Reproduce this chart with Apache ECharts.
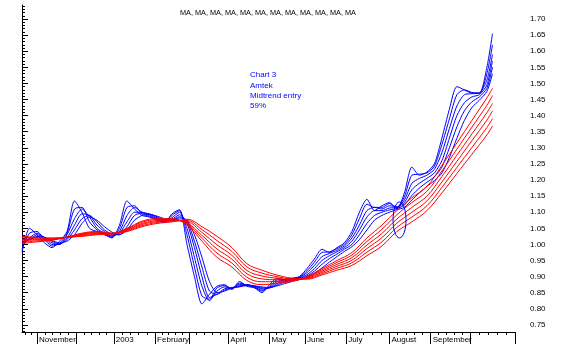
<!DOCTYPE html>
<html>
<head>
<meta charset="utf-8">
<script src="https://cdn.jsdelivr.net/npm/echarts@6/dist/echarts.min.js"></script>
<style>
html,body{margin:0;padding:0;background:#fff;}
#c{width:566px;height:356px;}
</style>
</head>
<body>
<div id="c"></div>
<script>
// ---- data (x = trading-day index from start of chart) ----
const blueDays = [0,4,8,12,16,20,24,28,32,36,40,44,48,52,56,60,64,68,72,76,80,84,88,92,96,100,104,108,112,116,120,124,128,132,136,140,144,148,152,156,160,164,168,172,176,180,184,188,192,196,200,204,208,212,216,220,224,228,232,236,240,244,248,251];
const B1 = [0.975,1.05,1.03,1.005,0.99,1.01,1.04,1.135,1.10,1.05,1.04,1.03,1.02,1.06,1.135,1.11,1.09,1.085,1.075,1.068,1.095,1.108,1.00,0.90,0.815,0.845,0.87,0.875,0.86,0.885,0.87,0.865,0.85,0.875,0.895,0.89,0.895,0.90,0.925,0.955,0.985,0.975,0.99,1.005,1.04,1.10,1.14,1.105,1.12,1.13,1.11,1.16,1.24,1.215,1.225,1.25,1.33,1.42,1.49,1.48,1.47,1.47,1.55,1.655];
const B2 = [0.985,1.035,1.04,1.015,0.995,1.003,1.035,1.11,1.115,1.07,1.045,1.032,1.022,1.05,1.115,1.12,1.095,1.087,1.077,1.069,1.09,1.105,1.03,0.93,0.84,0.83,0.865,0.872,0.862,0.88,0.873,0.866,0.855,0.87,0.89,0.891,0.894,0.899,0.918,0.945,0.975,0.977,0.987,1.0,1.03,1.08,1.125,1.115,1.115,1.127,1.115,1.148,1.215,1.218,1.222,1.243,1.31,1.39,1.465,1.48,1.472,1.47,1.53,1.62];
const B3 = [0.995,1.02,1.035,1.02,1.0,1.0,1.03,1.08,1.11,1.085,1.05,1.035,1.025,1.04,1.09,1.115,1.10,1.09,1.08,1.071,1.083,1.10,1.05,0.96,0.87,0.825,0.855,0.868,0.864,0.876,0.875,0.868,0.858,0.867,0.884,0.89,0.893,0.898,0.912,0.935,0.962,0.972,0.982,0.995,1.02,1.06,1.105,1.115,1.11,1.12,1.117,1.138,1.19,1.205,1.215,1.233,1.285,1.36,1.43,1.465,1.468,1.47,1.51,1.59];
const B4 = [1.005,1.015,1.03,1.022,1.005,1.0,1.02,1.06,1.095,1.09,1.06,1.04,1.028,1.035,1.07,1.10,1.10,1.093,1.083,1.073,1.078,1.092,1.065,0.99,0.90,0.835,0.845,0.862,0.866,0.872,0.875,0.87,0.862,0.865,0.878,0.887,0.891,0.896,0.906,0.925,0.95,0.965,0.977,0.99,1.01,1.045,1.085,1.105,1.105,1.113,1.115,1.13,1.17,1.19,1.205,1.222,1.26,1.33,1.40,1.44,1.458,1.465,1.495,1.57];
const B5 = [1.015,1.015,1.025,1.022,1.01,1.002,1.015,1.045,1.08,1.09,1.07,1.045,1.032,1.03,1.055,1.09,1.097,1.095,1.086,1.076,1.076,1.086,1.072,1.01,0.93,0.855,0.845,0.858,0.865,0.87,0.874,0.871,0.865,0.865,0.874,0.883,0.889,0.894,0.902,0.917,0.938,0.956,0.97,0.985,1.0,1.03,1.065,1.09,1.10,1.107,1.112,1.122,1.152,1.175,1.193,1.21,1.24,1.30,1.365,1.415,1.443,1.458,1.485,1.55];
const B6 = [1.025,1.02,1.022,1.02,1.012,1.005,1.01,1.03,1.065,1.085,1.075,1.055,1.038,1.03,1.045,1.075,1.09,1.093,1.088,1.08,1.077,1.082,1.075,1.03,0.96,0.885,0.85,0.855,0.864,0.868,0.872,0.871,0.868,0.866,0.871,0.878,0.885,0.891,0.898,0.91,0.927,0.945,0.962,0.978,0.993,1.015,1.045,1.075,1.09,1.10,1.108,1.115,1.138,1.16,1.18,1.198,1.222,1.27,1.33,1.385,1.425,1.448,1.475,1.53];

const redDays = [0,8,16,24,32,40,48,56,64,72,80,88,96,104,112,120,128,136,144,152,160,168,176,184,192,200,208,216,224,232,240,248,251];
const R1 = [1.003,1.008,1.013,1.023,1.035,1.04,1.035,1.05,1.072,1.08,1.08,1.06,1.01,0.96,0.93,0.888,0.875,0.88,0.885,0.90,0.925,0.95,0.975,1.02,1.06,1.105,1.145,1.18,1.245,1.315,1.385,1.455,1.485];
const R2 = [1.007,1.011,1.014,1.023,1.033,1.038,1.034,1.048,1.069,1.077,1.078,1.064,1.019,0.973,0.942,0.898,0.884,0.885,0.887,0.898,0.921,0.944,0.967,1.009,1.047,1.092,1.13,1.165,1.228,1.296,1.364,1.432,1.462];
const R3 = [1.012,1.014,1.016,1.022,1.031,1.036,1.034,1.046,1.065,1.074,1.076,1.067,1.028,0.986,0.954,0.909,0.893,0.89,0.889,0.897,0.917,0.938,0.959,0.998,1.034,1.079,1.115,1.15,1.211,1.277,1.343,1.409,1.438];
const R4 = [1.016,1.016,1.017,1.022,1.029,1.034,1.033,1.044,1.062,1.071,1.074,1.071,1.037,0.999,0.966,0.919,0.902,0.895,0.891,0.895,0.913,0.932,0.951,0.987,1.021,1.066,1.10,1.135,1.194,1.258,1.322,1.386,1.415];
const R5 = [1.021,1.019,1.019,1.022,1.027,1.032,1.033,1.042,1.058,1.068,1.072,1.074,1.046,1.012,0.978,0.93,0.911,0.90,0.893,0.894,0.909,0.926,0.943,0.976,1.008,1.053,1.085,1.12,1.177,1.239,1.301,1.363,1.391];
const R6 = [1.025,1.022,1.02,1.022,1.025,1.03,1.032,1.04,1.055,1.065,1.07,1.078,1.055,1.025,0.99,0.94,0.92,0.905,0.895,0.892,0.905,0.92,0.935,0.965,0.995,1.04,1.07,1.105,1.16,1.22,1.28,1.34,1.368];

// month starts (trading-day index) and labels
const monthStarts = [8,29,49,71,89,110,132,151,173,196,218,239,263];
const monthLabelDays = [8,49,71,110,132,151,173,196,218];
const monthLabels = ['November','2003','February','April','May','June','July','August','September'];
const yLabels = ['0.75','0.80','0.85','0.90','0.95','1.00','1.05','1.10','1.15','1.20','1.25','1.30','1.35','1.40','1.45','1.50','1.55','1.60','1.65','1.70'];
const titleText = 'MA, MA, MA, MA, MA, MA, MA, MA, MA, MA, MA, MA';
const noteLines = ['Chart 3','Amtek','Midtrend entry','59%'];
const ellipseAt = [201.4, 1.076];

// ---- build ----
const FONT = '"Liberation Sans", Arial, sans-serif';
const xMin = 0, xMax = 263, yMin = 0.728, yMax = 1.7435;

// small weekly ticks: 4 between consecutive month ticks
const weekTicks = [2, 5];
for (let i = 0; i < monthStarts.length - 1; i++) {
  const a = monthStarts[i], b = monthStarts[i + 1];
  for (let k = 1; k <= 4; k++) weekTicks.push(a + (b - a) * k / 5);
}
const minorY = [];
for (let k = 73; k <= 174; k++) minorY.push(k / 100);
const majorY = yLabels.map(Number);
const labelMap = {};
monthLabelDays.forEach((d, i) => labelMap[d] = monthLabels[i]);

const blueSets = [B1, B2, B3, B4, B5, B6];
const redSets = [R1, R2, R3, R4, R5, R6];
const series = [];
blueSets.forEach(arr => series.push({
  type: 'line', data: blueDays.map((d, i) => [d, arr[i]]),
  showSymbol: false, smooth: 0.25, silent: true,
  lineStyle: { color: '#0000ff', width: 1 }
}));
redSets.forEach(arr => series.push({
  type: 'line', data: redDays.map((d, i) => [d, arr[i]]),
  showSymbol: false, smooth: 0.4, silent: true,
  lineStyle: { color: '#ff0000', width: 1 }
}));

const chart = echarts.init(document.getElementById('c'), null, { renderer: 'canvas' });
const axisCommon = { type: 'value', min: xMin, max: xMax, splitLine: { show: false } };
chart.setOption({
  animation: false,
  backgroundColor: '#ffffff',
  textStyle: { fontFamily: FONT },
  grid: { left: 22, right: 51, top: 5, bottom: 24, containLabel: false },
  xAxis: [
    Object.assign({}, axisCommon, {
      position: 'bottom',
      axisLine: { show: true, lineStyle: { color: '#000', width: 1 } },
      axisTick: { show: true, customValues: weekTicks, length: 3, lineStyle: { color: '#000' } },
      axisLabel: { show: false }
    }),
    Object.assign({}, axisCommon, {
      position: 'bottom',
      axisLine: { show: false },
      axisTick: { show: true, customValues: monthStarts, length: 12, lineStyle: { color: '#000' } },
      axisLabel: {
        show: true, customValues: monthLabelDays, formatter: v => labelMap[Math.round(v)] || '',
        align: 'left', padding: [0, 0, 0, 2], margin: 4, fontSize: 8, color: '#000', fontFamily: FONT
      }
    })
  ],
  yAxis: [
    {
      type: 'value', position: 'right', min: yMin, max: yMax, splitLine: { show: false },
      axisLine: { show: true, lineStyle: { color: '#000', width: 1 } },
      axisTick: { show: true, customValues: minorY, length: 3, lineStyle: { color: '#000' } },
      axisLabel: { show: false }
    },
    {
      type: 'value', position: 'right', min: yMin, max: yMax, splitLine: { show: false },
      axisLine: { show: false },
      axisTick: { show: true, customValues: majorY, length: 6, lineStyle: { color: '#000' } },
      axisLabel: {
        show: true, customValues: majorY, formatter: v => v.toFixed(2),
        margin: 15, fontSize: 8, color: '#000', fontFamily: FONT
      }
    }
  ],
  series: series
});
const c = chart.convertToPixel({ xAxisIndex: 0, yAxisIndex: 0 }, ellipseAt);
chart.setOption({
  graphic: [
    { type: 'text', x: 268, y: 13,
      style: { text: titleText, fontSize: 7.3, fill: '#000', fontFamily: FONT, align: 'center', verticalAlign: 'middle' } },
    { type: 'text', x: 250, y: 70,
      style: { text: noteLines.join('\n'), fontSize: 8, lineHeight: 10.3, fill: '#0000ff', fontFamily: FONT } },
    { type: 'ellipse', shape: { cx: c[0], cy: c[1], rx: 6.5, ry: 18 }, z: 10,
      style: { fill: 'none', stroke: '#0000ff', lineWidth: 1 } }
  ]
});
</script>
</body>
</html>
